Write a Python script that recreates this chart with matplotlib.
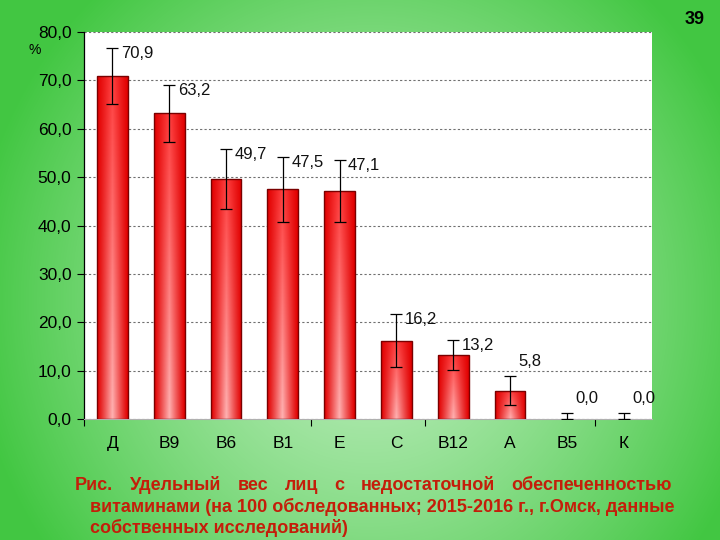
import matplotlib.pyplot as plt
import numpy as np
from matplotlib.ticker import FixedLocator, FuncFormatter

# данные с рисунка
categories = ["Д", "В9", "В6", "В1", "Е", "С", "В12", "А", "В5", "К"]
values = [70.9, 63.2, 49.7, 47.5, 47.1, 16.2, 13.2, 5.8, 0.0, 0.0]
errors = [5.8, 5.9, 6.2, 6.7, 6.4, 5.5, 3.1, 3.0, 1.2, 1.2]
value_labels = ["70,9", "63,2", "49,7", "47,5", "47,1", "16,2", "13,2", "5,8", "0,0", "0,0"]
y_ticks = [0, 10, 20, 30, 40, 50, 60, 70, 80]
caption_lines = [
    "Рис. Удельный вес лиц с недостаточной обеспеченностью",
    "витаминами (на 100 обследованных; 2015-2016 г., г.Омск, данные",
    "собственных исследований)",
]

FONT = ["Liberation Sans", "DejaVu Sans"]
CAPTION_COLOR = "#C41E0A"

fig = plt.figure(figsize=(7.2, 5.4), dpi=100)

# зелёный фон слайда
bg = fig.add_axes([0, 0, 1, 1], zorder=-10)
yy, xx = np.mgrid[0:540, 0:720]
d = np.sqrt(((xx - 370) / 400.0) ** 2 + ((yy - 300) / 420.0) ** 2)
t = np.clip(d, 0, 1) ** 1.3
light = np.array([0.74, 0.93, 0.74])
dark = np.array([0.26, 0.78, 0.26])
img = light[None, None, :] * (1 - t[..., None]) + dark[None, None, :] * t[..., None]
bg.imshow(img, extent=[0, 720, 540, 0], aspect="auto")
bg.set_xlim(0, 720)
bg.set_ylim(540, 0)
bg.axis("off")

ax = fig.add_axes([84 / 720, 1 - 419 / 540, 568 / 720, 387 / 540])
ax.set_facecolor("white")

x = np.arange(len(categories))
width = 0.54
bars = ax.bar(x, values, width=width, color="none", edgecolor="#7a0000",
              linewidth=1.0, zorder=3)

# градиентная заливка столбиков
nx, ny = 64, 64
u = np.linspace(0, 1, nx)
v = np.linspace(0, 1, ny)[:, None]
w = (1 - np.abs(2 * u - 1)) ** 1.1
red = np.clip(0.88 + 0.12 * w * np.ones_like(v), 0, 1)
gb = w * (0.25 + 0.45 * v)
grad = np.dstack([red, gb, gb])
for bar in bars:
    h = bar.get_height()
    if h <= 0:
        bar.set_linewidth(0)
        continue
    x0 = bar.get_x()
    im = ax.imshow(grad, extent=[x0, x0 + bar.get_width(), 0, h],
                   aspect="auto", origin="upper", zorder=2)
    im.set_clip_path(bar)

lower = [min(e, val) for e, val in zip(errors, values)]
ax.errorbar(x, values, yerr=[lower, errors], fmt="none", ecolor="black",
            elinewidth=0.9, capsize=4, capthick=0.9, zorder=4)

for i, (val, err, lab) in enumerate(zip(values, errors, value_labels)):
    top = val + err
    # у коротких столбиков подпись стоит выше уса
    label_y = top + 3.0 if top < 12 else top - 1.2
    ax.text(i + 0.15, label_y, lab, ha="left", va="center",
            fontsize=12, family=FONT, color="#111111", zorder=5)

ax.set_xlim(-0.5, len(categories) - 0.5)
ax.set_ylim(0, 80)
ax.yaxis.set_major_locator(FixedLocator(y_ticks))
ax.yaxis.set_major_formatter(FuncFormatter(lambda y, p: f"{y:.1f}".replace(".", ",")))
ax.grid(axis="y", color="#707070", linestyle=(0, (2, 2)), linewidth=0.8, zorder=1)
ax.set_axisbelow(True)

ax.set_xticks(x)
ax.set_xticklabels(categories, family=FONT, fontsize=12.5)
ax.tick_params(axis="x", which="major", length=0, pad=12)
ax.set_xticks([-0.5, 3.5, 5.5, 8.5], minor=True)
ax.tick_params(axis="x", which="minor", length=5, width=0.8, direction="out")
ax.tick_params(axis="y", length=5, width=0.8, direction="out", pad=4)
for lab in ax.get_yticklabels():
    lab.set_family(FONT)
    lab.set_fontsize(12.5)

for s in ["top", "right"]:
    ax.spines[s].set_visible(False)
ax.spines["bottom"].set_color("#b0b0b0")
ax.spines["bottom"].set_linewidth(0.8)
ax.spines["left"].set_color("black")
ax.spines["left"].set_linewidth(0.9)

fig.text(35 / 720, 1 - 50 / 540, "%", fontsize=10, family=FONT,
         ha="center", va="center")
fig.text(695 / 720, 1 - 20 / 540, "39", fontsize=13, fontweight="bold",
         family=FONT, ha="center", va="center")

# подпись: первая строка выровнена по ширине
renderer = fig.canvas.get_renderer()
words = caption_lines[0].split()
left_px, right_px = 75, 672
texts = [fig.text(0, 0, wd, fontsize=13, fontweight="bold", family=FONT,
                  color=CAPTION_COLOR, va="center", ha="left") for wd in words]
widths = [tx.get_window_extent(renderer).width for tx in texts]
gap = (right_px - left_px - sum(widths)) / (len(words) - 1)
pos = left_px
for tx, wdt in zip(texts, widths):
    tx.set_position((pos / 720, 1 - 485 / 540))
    pos += wdt + gap

for line, ypx in zip(caption_lines[1:], [507, 528]):
    fig.text(90 / 720, 1 - ypx / 540, line, fontsize=13, fontweight="bold",
             family=FONT, color=CAPTION_COLOR, va="center", ha="left")

fig.savefig("out.png", dpi=100)
